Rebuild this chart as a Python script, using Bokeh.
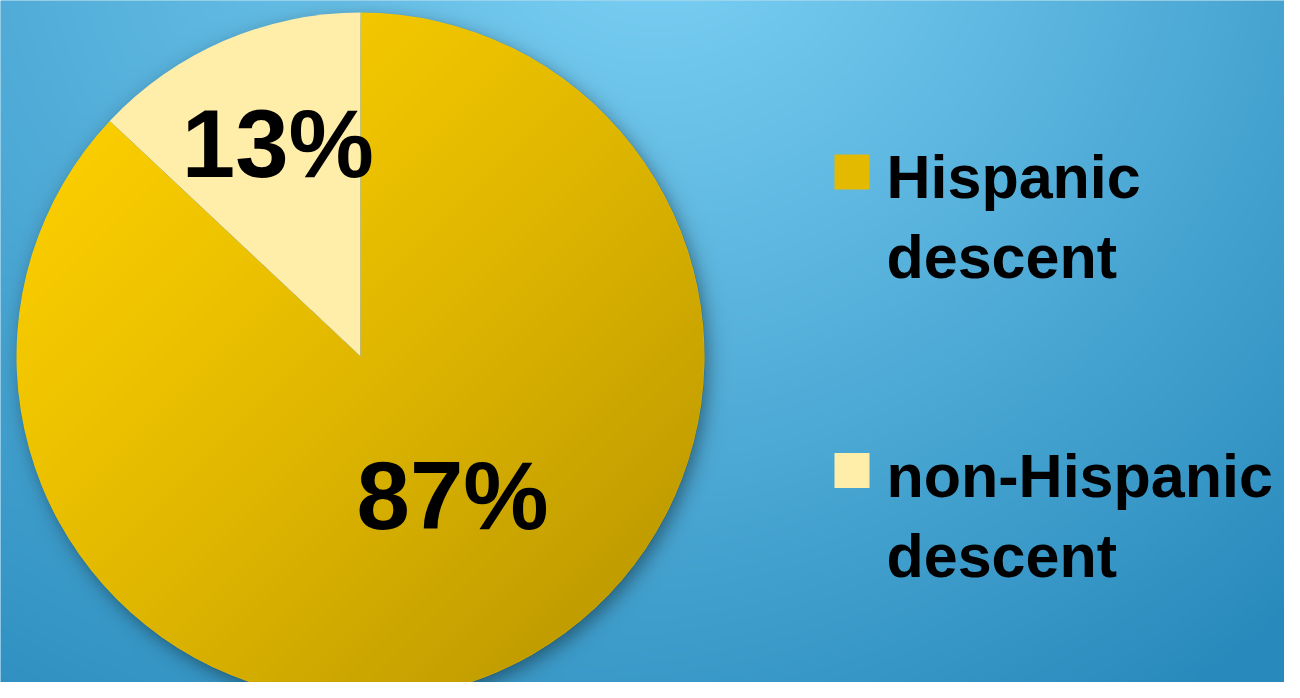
import numpy as np
from bokeh.plotting import figure
from bokeh.models import Range1d, ColumnDataSource
from bokeh.core.properties import value
from bokeh.embed import file_html
from bokeh.resources import INLINE

# ---------------- data ----------------
categories = ["Hispanic descent", "non-Hispanic descent"]
legend_lines = [["Hispanic", "descent"], ["non-Hispanic", "descent"]]
shares = [87, 13]
labels = ["87%", "13%"]
colors = ["#FFD200", "#FFEDAA"]

# ---------------- geometry / style ----------------
W, H = 1284, 682          # figure size; data units == image pixels
PAGE_H = 698
X0, Y0 = 0, PAGE_H - H    # data range origin
CX, CY_PAGE, R = 360.0, 356.0, 344.0
CY = PAGE_H - CY_PAGE
FONT = "Liberation Sans"
LAB_SIZE = 96
LEG_SIZE = 61

def page_y(y):
    return PAGE_H - y

p = figure(width=W, height=H, x_range=Range1d(X0, X0 + W), y_range=Range1d(Y0, Y0 + H),
           output_backend="svg", toolbar_location=None, min_border=0,
           x_axis_location=None, y_axis_location=None)
p.grid.visible = False
p.outline_line_color = None
p.background_fill_color = "#56B2DE"
p.border_fill_color = "#56B2DE"

# ---------------- background gradient (with pie shadow) ----------------
bw, bh = W // 2, H // 2
xs = X0 + (np.arange(bw) + 0.5) * 2
ys = Y0 + (np.arange(bh) + 0.5) * 2           # data y, row 0 = bottom
X, Y = np.meshgrid(xs, ys)
PY = PAGE_H - Y
t = np.sqrt(((X - 680) / 1000.0) ** 2 + ((PY + 100) / 900.0) ** 2) + 0.1 * (X - 680) / 620.0
t = np.clip((t - 0.1) / 1.0, 0, 1)
light = np.array([118, 204, 241], float)
dark = np.array([40, 138, 188], float)
rgb = light[None, None, :] * (1 - t[..., None]) + dark[None, None, :] * t[..., None]
# soft shadow of the pie
ds = np.sqrt((X - (CX + 4)) ** 2 + (PY - (CY_PAGE + 6)) ** 2)
sh = 0.40 / (1 + np.exp((ds - R) / 5.5))
rgb = rgb * (1 - sh[..., None])
rgb = np.clip(rgb, 0, 255).astype(np.uint32)
bg = (255 << 24) | (rgb[..., 2] << 16) | (rgb[..., 1] << 8) | rgb[..., 0]
p.image_rgba(image=[bg.astype(np.uint32)], x=X0, y=Y0, dw=W, dh=H)

# ---------------- pie wedges ----------------
total = float(sum(shares))
# non-Hispanic slice starts at 12 o'clock going anticlockwise; Hispanic follows
order = [1, 0]
starts, ends = [0.0, 0.0], [0.0, 0.0]
a = np.pi / 2
for k in order:
    starts[k] = a
    a += 2 * np.pi * shares[k] / total
    ends[k] = a

src = ColumnDataSource(dict(x=[CX] * len(shares), y=[CY] * len(shares),
                            start=starts, end=ends, color=colors, cat=categories))
p.wedge(x="x", y="y", radius=R, start_angle="start", end_angle="end",
        direction="anticlock", fill_color="color", line_color=None, source=src)

# shading overlay for the Hispanic slice (gradient from top-left to bottom-right)
x0, x1 = int(CX - R - 2), int(CX + R + 2)
y0, y1 = Y0, int(min(CY + R + 2, Y0 + H))
gx = x0 + np.arange(x1 - x0) + 0.5
gy = y0 + np.arange(y1 - y0) + 0.5
GX, GY = np.meshgrid(gx, gy)
dx, dy = GX - CX, GY - CY
d = np.sqrt(dx ** 2 + dy ** 2)
ac = np.clip(R - d + 0.5, 0, 1)
ang = np.arctan2(dy, dx)
rel = np.mod(ang - starts[0], 2 * np.pi)
inside = (rel <= (ends[0] - starts[0])).astype(float)
tp = np.clip(((GX - (CX - R)) + (PAGE_H - GY - (CY_PAGE - R))) / (4 * R), 0, 1)
alpha = 0.33 * tp ** 1.3 * ac * inside
al = np.clip(alpha * 255, 0, 255).astype(np.uint32)
ov = (al << 24) | (0 << 16) | (8 << 8) | 20
p.image_rgba(image=[ov.astype(np.uint32)], x=x0, y=y0, dw=x1 - x0, dh=y1 - y0)

# ---------------- percentage labels ----------------
mids = [(s + e) / 2 for s, e in zip(starts, ends)]
lab_r = [0.48, 0.67]
lab_tweak = [np.radians(10.5), np.radians(-2.4)]
lx = [CX + f * R * np.cos(m + tw) for f, m, tw in zip(lab_r, mids, lab_tweak)]
ly = [CY + f * R * np.sin(m + tw) - 34 + 0.33 * LAB_SIZE
      for f, m, tw in zip(lab_r, mids, lab_tweak)]
p.text(x=lx, y=ly, text=labels, text_font=value(FONT), text_font_style="bold",
       text_font_size=value(f"{LAB_SIZE}px"), text_align="center", text_baseline="alphabetic",
       text_color="#000000")

# ---------------- legend ----------------
sq_x = 851.5
sq_y = [page_y(171.5 + i * 298.5) for i in range(len(categories))]
sq_colors = ["#E4BA00", colors[1]]
p.rect(x=[sq_x] * len(categories), y=sq_y, width=35, height=35,
       fill_color=sq_colors, line_color=None)
tx, ty, tt = [], [], []
for i, lines in enumerate(legend_lines):
    for j, line in enumerate(lines):
        tx.append(886)
        ty.append(page_y(171.5 + i * 298.5 + 25.5 + j * 80) + 0.33 * LEG_SIZE)
        tt.append(line)
p.text(x=tx, y=ty, text=tt, text_font=value(FONT), text_font_style="bold",
       text_font_size=value(f"{LEG_SIZE}px"), text_align="left", text_baseline="alphabetic",
       text_color="#000000")

open("out.html", "w").write(file_html(p, INLINE))
